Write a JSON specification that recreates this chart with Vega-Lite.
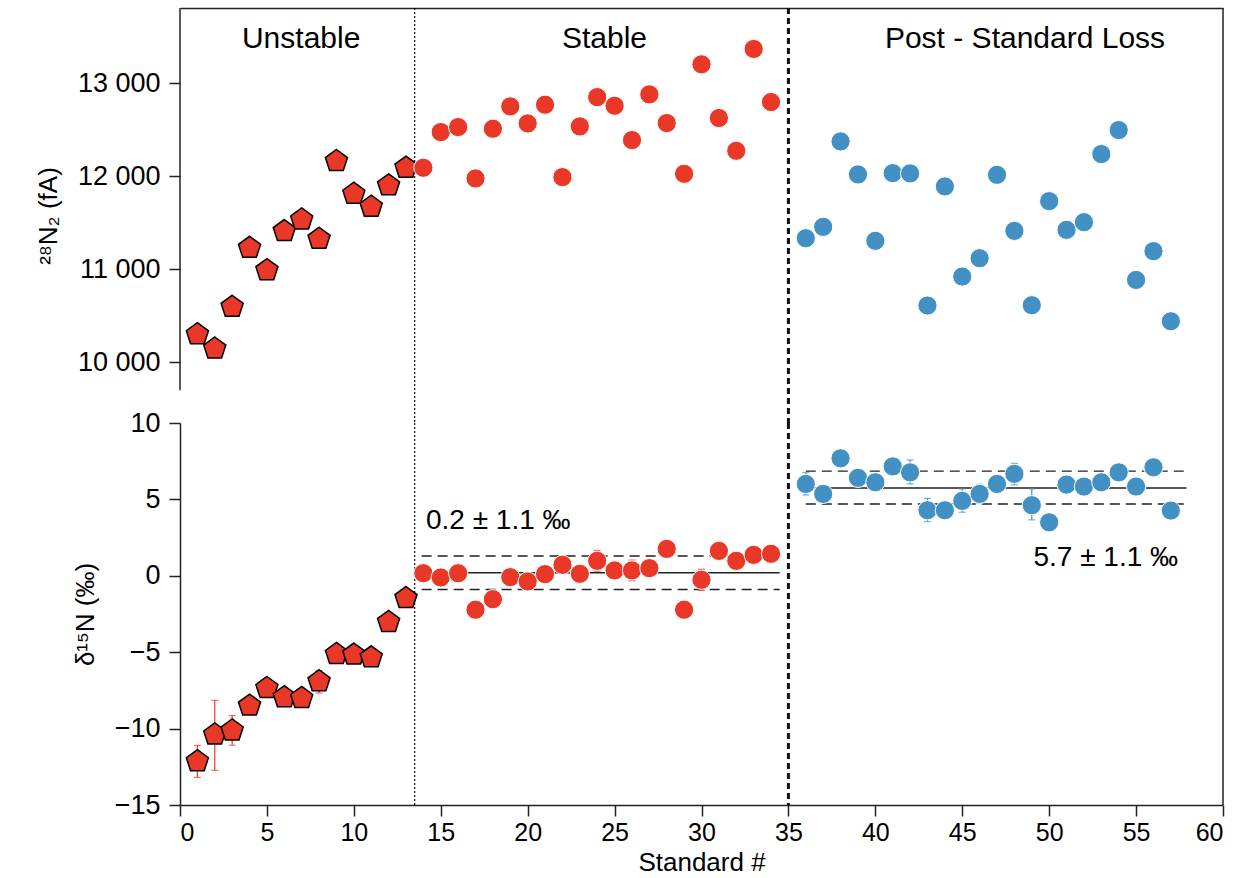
{
  "$schema": "https://vega.github.io/schema/vega-lite/v6.json",
  "background": "white",
  "padding": {"left": 35, "top": 6, "right": 20, "bottom": 5},
  "spacing": 0,
  "bounds": "flush",
  "datasets": {
    "pts": [
      {"n": 1, "group": "Unstable", "n2": 10301, "d15n": -12.14, "lo": -13.2, "hi": -11.1},
      {"n": 2, "group": "Unstable", "n2": 10147, "d15n": -10.39, "lo": -12.73, "hi": -8.15},
      {"n": 3, "group": "Unstable", "n2": 10595, "d15n": -10.13, "lo": -11.09, "hi": -9.15},
      {"n": 4, "group": "Unstable", "n2": 11229, "d15n": -8.5},
      {"n": 5, "group": "Unstable", "n2": 10989, "d15n": -7.35},
      {"n": 6, "group": "Unstable", "n2": 11409, "d15n": -7.95},
      {"n": 7, "group": "Unstable", "n2": 11534, "d15n": -8.0},
      {"n": 8, "group": "Unstable", "n2": 11326, "d15n": -6.91, "lo": -7.67, "hi": -6.2},
      {"n": 9, "group": "Unstable", "n2": 12161, "d15n": -5.12},
      {"n": 10, "group": "Unstable", "n2": 11810, "d15n": -5.16},
      {"n": 11, "group": "Unstable", "n2": 11670, "d15n": -5.34},
      {"n": 12, "group": "Unstable", "n2": 11900, "d15n": -3.03},
      {"n": 13, "group": "Unstable", "n2": 12090, "d15n": -1.46},
      {"n": 14, "group": "Stable", "n2": 12090, "d15n": 0.17},
      {"n": 15, "group": "Stable", "n2": 12473, "d15n": -0.11},
      {"n": 16, "group": "Stable", "n2": 12527, "d15n": 0.17},
      {"n": 17, "group": "Stable", "n2": 11975, "d15n": -2.22},
      {"n": 18, "group": "Stable", "n2": 12509, "d15n": -1.53},
      {"n": 19, "group": "Stable", "n2": 12749, "d15n": -0.09},
      {"n": 20, "group": "Stable", "n2": 12566, "d15n": -0.37},
      {"n": 21, "group": "Stable", "n2": 12767, "d15n": 0.11},
      {"n": 22, "group": "Stable", "n2": 11989, "d15n": 0.72},
      {"n": 23, "group": "Stable", "n2": 12534, "d15n": 0.13},
      {"n": 24, "group": "Stable", "n2": 12849, "d15n": 0.98, "lo": 0.3, "hi": 1.66},
      {"n": 25, "group": "Stable", "n2": 12756, "d15n": 0.35},
      {"n": 26, "group": "Stable", "n2": 12387, "d15n": 0.35, "lo": -0.33, "hi": 1.03},
      {"n": 27, "group": "Stable", "n2": 12878, "d15n": 0.5},
      {"n": 28, "group": "Stable", "n2": 12570, "d15n": 1.76},
      {"n": 29, "group": "Stable", "n2": 12025, "d15n": -2.22},
      {"n": 30, "group": "Stable", "n2": 13201, "d15n": -0.26, "lo": -0.95, "hi": 0.43},
      {"n": 31, "group": "Stable", "n2": 12624, "d15n": 1.63},
      {"n": 32, "group": "Stable", "n2": 12272, "d15n": 0.98},
      {"n": 33, "group": "Stable", "n2": 13366, "d15n": 1.37},
      {"n": 34, "group": "Stable", "n2": 12796, "d15n": 1.44},
      {"n": 36, "group": "Post", "n2": 11333, "d15n": 6.01, "lo": 5.29, "hi": 6.75},
      {"n": 37, "group": "Post", "n2": 11455, "d15n": 5.36},
      {"n": 38, "group": "Post", "n2": 12373, "d15n": 7.69},
      {"n": 39, "group": "Post", "n2": 12018, "d15n": 6.41},
      {"n": 40, "group": "Post", "n2": 11305, "d15n": 6.12},
      {"n": 41, "group": "Post", "n2": 12032, "d15n": 7.16},
      {"n": 42, "group": "Post", "n2": 12029, "d15n": 6.77, "lo": 6.01, "hi": 7.58},
      {"n": 43, "group": "Post", "n2": 10610, "d15n": 4.29, "lo": 3.55, "hi": 5.07},
      {"n": 44, "group": "Post", "n2": 11889, "d15n": 4.29},
      {"n": 45, "group": "Post", "n2": 10921, "d15n": 4.9, "lo": 4.16, "hi": 5.69},
      {"n": 46, "group": "Post", "n2": 11118, "d15n": 5.36, "lo": 4.73, "hi": 5.99},
      {"n": 47, "group": "Post", "n2": 12014, "d15n": 6.01},
      {"n": 48, "group": "Post", "n2": 11412, "d15n": 6.67, "lo": 5.95, "hi": 7.36},
      {"n": 49, "group": "Post", "n2": 10613, "d15n": 4.62, "lo": 3.66, "hi": 5.69},
      {"n": 50, "group": "Post", "n2": 11731, "d15n": 3.5},
      {"n": 51, "group": "Post", "n2": 11423, "d15n": 5.97},
      {"n": 52, "group": "Post", "n2": 11505, "d15n": 5.84},
      {"n": 53, "group": "Post", "n2": 12237, "d15n": 6.12},
      {"n": 54, "group": "Post", "n2": 12495, "d15n": 6.77},
      {"n": 55, "group": "Post", "n2": 10885, "d15n": 5.84},
      {"n": 56, "group": "Post", "n2": 11194, "d15n": 7.1},
      {"n": 57, "group": "Post", "n2": 10441, "d15n": 4.27}
    ],
    "bands": [
      {"group": "Stable", "kind": "mean", "start": 13.9, "end": 34.5, "level": 0.2},
      {"group": "Stable", "kind": "sd", "start": 13.9, "end": 34.5, "level": 1.3},
      {"group": "Stable", "kind": "sd", "start": 13.9, "end": 34.5, "level": -0.9},
      {"group": "Post", "kind": "mean", "start": 36.0, "end": 57.9, "level": 5.75},
      {"group": "Post", "kind": "sd", "start": 36.0, "end": 57.9, "level": 6.85},
      {"group": "Post", "kind": "sd", "start": 36.0, "end": 57.9, "level": 4.7}
    ]
  },
  "config": {
    "view": {"stroke": null},
    "font": "Liberation Sans",
    "axis": {
      "grid": false,
      "labelFont": "Liberation Sans",
      "titleFont": "Liberation Sans",
      "labelFontSize": 27,
      "titleFontSize": 26,
      "titleFontWeight": "normal",
      "labelColor": "black",
      "titleColor": "black",
      "domainColor": "#222",
      "tickColor": "#222",
      "domainWidth": 1.5,
      "tickWidth": 1.5,
      "tickSize": 11,
      "labelPadding": 9
    }
  },
  "vconcat": [
    {
      "width": 1043,
      "height": 415,
      "layer": [
        {
          "data": {"values": [{}]},
          "mark": {"type": "rule", "strokeDash": [2, 2], "strokeWidth": 1.2, "color": "#111"},
          "encoding": {"x": {"datum": 13.5, "type": "quantitative"}}
        },
        {
          "data": {"values": [{}]},
          "mark": {"type": "rule", "strokeDash": [6, 4], "strokeWidth": 3, "color": "#111"},
          "encoding": {"x": {"datum": 35, "type": "quantitative"}}
        },
        {
          "data": {"values": [{}]},
          "mark": {"type": "rule", "strokeWidth": 1.5, "color": "#222"},
          "encoding": {"x": {"datum": 60, "type": "quantitative"}}
        },
        {
          "data": {"values": [{}]},
          "mark": {"type": "rule", "strokeWidth": 1.5, "color": "#222"},
          "encoding": {
            "x": {"datum": 0, "type": "quantitative"},
            "y": {"datum": 9699, "type": "quantitative"},
            "y2": {"datum": 13806}
          }
        },
        {
          "data": {"name": "pts"},
          "transform": [{"filter": "datum.group === 'Unstable'"}],
          "mark": {"type": "point", "shape": "M0,-1L0.951,-0.309L0.588,0.809L-0.588,0.809L-0.951,-0.309Z", "filled": true, "fill": "#E93828", "stroke": "black", "strokeWidth": 1.5, "size": 540, "opacity": 1},
          "encoding": {
            "x": {"field": "n", "type": "quantitative", "scale": {"domain": [0, 60], "nice": false}, "axis": {"orient": "top", "labels": false, "ticks": false, "title": null}},
            "y": {"field": "n2", "type": "quantitative", "scale": {"domain": [9348, 13806], "nice": false, "zero": false}, "axis": {"values": [10000, 11000, 12000, 13000], "domain": false, "labelExpr": "replace(format(datum.value, ','), ',', ' ')", "title": "²⁸N₂ (fA)", "titlePadding": 16}}
          }
        },
        {
          "data": {"name": "pts"},
          "transform": [{"filter": "datum.group !== 'Unstable'"}],
          "mark": {"type": "circle", "size": 370, "stroke": "white", "strokeWidth": 1, "opacity": 1},
          "encoding": {
            "x": {"field": "n", "type": "quantitative"},
            "y": {"field": "n2", "type": "quantitative"},
            "color": {"field": "group", "type": "nominal", "scale": {"domain": ["Stable", "Post"], "range": ["#E93828", "#4390C5"]}, "legend": null}
          }
        },
        {
          "data": {"values": [{}]},
          "mark": {"type": "text", "text": "Unstable", "fontSize": 30, "align": "center", "baseline": "alphabetic", "color": "black"},
          "encoding": {"x": {"datum": 6.97, "type": "quantitative"}, "y": {"datum": 13380, "type": "quantitative"}}
        },
        {
          "data": {"values": [{}]},
          "mark": {"type": "text", "text": "Stable", "fontSize": 30, "align": "center", "baseline": "alphabetic", "color": "black"},
          "encoding": {"x": {"datum": 24.42, "type": "quantitative"}, "y": {"datum": 13380, "type": "quantitative"}}
        },
        {
          "data": {"values": [{}]},
          "mark": {"type": "text", "text": "Post - Standard Loss", "fontSize": 30, "align": "center", "baseline": "alphabetic", "color": "black"},
          "encoding": {"x": {"datum": 48.61, "type": "quantitative"}, "y": {"datum": 13380, "type": "quantitative"}}
        }
      ]
    },
    {
      "width": 1043,
      "height": 382,
      "layer": [
        {
          "data": {"values": [{}]},
          "mark": {"type": "rule", "strokeDash": [2, 2], "strokeWidth": 1.2, "color": "#111"},
          "encoding": {"x": {"datum": 13.5, "type": "quantitative"}}
        },
        {
          "data": {"values": [{}]},
          "mark": {"type": "rule", "strokeDash": [6, 4], "strokeWidth": 3, "color": "#111"},
          "encoding": {"x": {"datum": 35, "type": "quantitative"}}
        },
        {
          "data": {"values": [{}]},
          "mark": {"type": "rule", "strokeWidth": 1.5, "color": "#222"},
          "encoding": {"x": {"datum": 60, "type": "quantitative"}}
        },
        {
          "data": {"name": "bands"},
          "mark": {"type": "rule", "color": "#222", "strokeWidth": 1.4},
          "encoding": {
            "x": {"field": "start", "type": "quantitative"},
            "x2": {"field": "end"},
            "y": {"field": "level", "type": "quantitative"},
            "strokeDash": {"field": "kind", "type": "nominal", "scale": {"domain": ["mean", "sd"], "range": [[1, 0], [10, 6]]}, "legend": null}
          }
        },
        {
          "data": {"name": "pts"},
          "transform": [{"filter": "isValid(datum.lo) && datum.group !== 'Post'"}],
          "mark": {"type": "errorbar", "ticks": {"size": 7}, "thickness": 1.2, "color": "#E93828"},
          "encoding": {
            "x": {"field": "n", "type": "quantitative"},
            "y": {"field": "lo", "type": "quantitative", "title": "δ¹⁵N (‰)"},
            "y2": {"field": "hi"}
          }
        },
        {
          "data": {"name": "pts"},
          "transform": [{"filter": "isValid(datum.lo) && datum.group === 'Post'"}],
          "mark": {"type": "errorbar", "ticks": {"size": 7}, "thickness": 1.2, "color": "#4390C5"},
          "encoding": {
            "x": {"field": "n", "type": "quantitative"},
            "y": {"field": "lo", "type": "quantitative", "title": "δ¹⁵N (‰)"},
            "y2": {"field": "hi"}
          }
        },
        {
          "data": {"name": "pts"},
          "transform": [{"filter": "datum.group === 'Unstable'"}],
          "mark": {"type": "point", "shape": "M0,-1L0.951,-0.309L0.588,0.809L-0.588,0.809L-0.951,-0.309Z", "filled": true, "fill": "#E93828", "stroke": "black", "strokeWidth": 1.5, "size": 540, "opacity": 1},
          "encoding": {
            "x": {"field": "n", "type": "quantitative", "scale": {"domain": [0, 60], "nice": false}, "axis": {"values": [0, 5, 10, 15, 20, 25, 30, 35, 40, 45, 50, 55, 60], "title": "Standard #", "labelFontSize": 25, "labelPadding": 4, "titlePadding": 4}},
            "y": {"field": "d15n", "type": "quantitative", "scale": {"domain": [-15, 10], "nice": false, "zero": false}, "axis": {"values": [-15, -10, -5, 0, 5, 10], "title": "δ¹⁵N (‰)", "titlePadding": 16}}
          }
        },
        {
          "data": {"name": "pts"},
          "transform": [{"filter": "datum.group !== 'Unstable'"}],
          "mark": {"type": "circle", "size": 370, "stroke": "white", "strokeWidth": 1, "opacity": 1},
          "encoding": {
            "x": {"field": "n", "type": "quantitative"},
            "y": {"field": "d15n", "type": "quantitative"},
            "color": {"field": "group", "type": "nominal", "scale": {"domain": ["Stable", "Post"], "range": ["#E93828", "#4390C5"]}, "legend": null}
          }
        },
        {
          "data": {"values": [{}]},
          "mark": {"type": "text", "text": "0.2 ± 1.1 ‰", "fontSize": 28, "align": "left", "baseline": "alphabetic", "color": "black"},
          "encoding": {"x": {"datum": 14.15, "type": "quantitative"}, "y": {"datum": 3.09, "type": "quantitative"}}
        },
        {
          "data": {"values": [{}]},
          "mark": {"type": "text", "text": "5.7 ± 1.1 ‰", "fontSize": 28, "align": "left", "baseline": "alphabetic", "color": "black"},
          "encoding": {"x": {"datum": 49.1, "type": "quantitative"}, "y": {"datum": 0.61, "type": "quantitative"}}
        }
      ]
    }
  ]
}
